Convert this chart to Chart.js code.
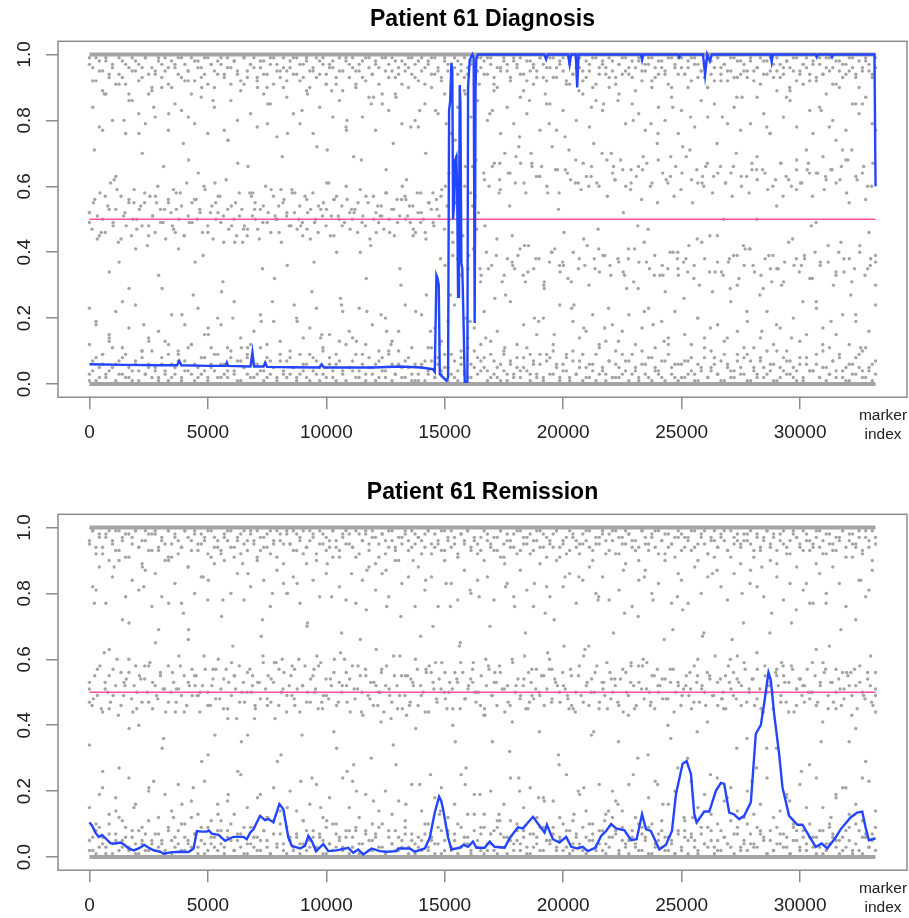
<!DOCTYPE html>
<html>
<head>
<meta charset="utf-8">
<script src="https://cdn.jsdelivr.net/npm/chart.js@4.4.1/dist/chart.umd.min.js"></script>
<style>
    html, body { margin: 0; padding: 0; background: #fff; overflow: hidden; }
    #wrapper { position: relative; width: 909px; height: 918px; }
    canvas { position: absolute; left: 0; }
    #diagnosisChart { top: 0; }
    #remissionChart { top: 473px; }
</style>
</head>
<body>
<div id="wrapper">
    <canvas id="diagnosisChart" width="909" height="445"></canvas>
    <canvas id="remissionChart" width="909" height="445"></canvas>
</div>
<script>
// Data
const lastMarker = 33186;
const xTicks = [0, 5000, 10000, 15000, 20000, 25000, 30000];
const yTicks = [0, 0.2, 0.4, 0.6, 0.8, 1.0];
const threshold = 0.5;

// Smoothed line (blue), diagnosis sample
const diagLineX = [0, 1500, 3000, 3700, 3790, 3880, 5000, 5750, 5800, 5850, 6800, 6880, 6950, 7350, 7420, 7500,
    8500, 9700, 9800, 9900, 11000, 12000, 13100, 14000, 14500, 14578, 14648, 14700, 14746, 14789, 15070, 15140,
    15182, 15230, 15280, 15320, 15350, 15400, 15440, 15490, 15520, 15562, 15600, 15632, 15660, 15702, 15740,
    15790, 15843, 15955, 15983, 16053, 16166, 16220, 16263, 16300, 16333, 16404, 17500, 19200, 19280, 19350,
    20200, 20270, 20330, 20530, 20590, 20650, 21500, 23280, 23330, 23380, 24850, 24900, 24950, 25900, 25990,
    26080, 26190, 26280, 28750, 28800, 28850, 30650, 30700, 30750, 31300, 31350, 31400, 33140, 33186];
const diagLineY = [0.06, 0.058, 0.057, 0.057, 0.07, 0.057, 0.055, 0.055, 0.065, 0.055, 0.053, 0.096, 0.053, 0.053, 0.065, 0.052,
    0.051, 0.05, 0.06, 0.05, 0.05, 0.05, 0.053, 0.05, 0.045, 0.037, 0.33, 0.32, 0.30, 0.03, 0.01, 0.02,
    0.83, 0.86, 0.975, 0.95, 0.50, 0.55, 0.68, 0.69, 0.60, 0.265, 0.40, 0.907, 0.85, 0.367, 0.35,
    0.20, 0.007, 0.007, 0.90, 0.983, 1.0, 0.99, 0.185, 0.90, 0.99, 1.0, 1.0, 1.0, 0.985, 1.0,
    1.0, 0.97, 1.0, 1.0, 0.90, 1.0, 1.0, 1.0, 0.983, 1.0, 1.0, 0.992, 1.0, 1.0, 0.938,
    1.0, 0.98, 1.0, 1.0, 0.978, 1.0, 1.0, 0.992, 1.0, 1.0, 0.992, 1.0, 1.0, 0.6];

// Smoothed line (blue), remission sample
const remLineX = [0, 113, 253, 393, 534, 674, 885, 1095, 1306, 1475, 1657, 1868, 2078, 2317, 2500, 2710, 2991, 3132,
    3413, 3834, 4185, 4395, 4537, 4747, 4957, 5030, 5167, 5448, 5729, 5940, 6080, 6502, 6642, 6783, 6923, 7204,
    7415, 7555, 7766, 8019, 8187, 8398, 8539, 8890, 9100, 9241, 9381, 9564, 9873, 10083, 10434, 10926, 11137,
    11347, 11558, 11910, 12261, 12542, 12963, 13033, 13525, 13735, 14157, 14368, 14578, 14761, 14850, 14930,
    15140, 15280, 15631, 15800, 15982, 16193, 16334, 16685, 16896, 17100, 17528, 17739, 18090, 18300, 18722,
    19002, 19213, 19312, 19565, 19845, 20126, 20337, 20600, 20828, 21039, 21350, 21601, 21812, 22023, 22233,
    22584, 22865, 23100, 23328, 23497, 23700, 24058, 24339, 24591, 24760, 25041, 25210, 25393, 25534, 25632,
    25955, 26166, 26446, 26657, 26797, 27008, 27200, 27429, 27640, 27921, 28132, 28342, 28483, 28665, 28763,
    28904, 29115, 29255, 29536, 29887, 30100, 30379, 30660, 30913, 31148, 31500, 31711, 32132, 32413, 32624,
    32765, 32905, 33186];
const remLineY = [0.105, 0.095, 0.074, 0.061, 0.067, 0.057, 0.042, 0.041, 0.044, 0.037, 0.026, 0.020, 0.026, 0.037, 0.028, 0.020, 0.016, 0.010,
    0.014, 0.016, 0.015, 0.026, 0.079, 0.077, 0.077, 0.081, 0.071, 0.067, 0.049, 0.057, 0.061, 0.061, 0.054, 0.074, 0.084, 0.125,
    0.112, 0.115, 0.105, 0.161, 0.145, 0.059, 0.034, 0.026, 0.034, 0.064, 0.049, 0.018, 0.039, 0.018, 0.020, 0.028, 0.013,
    0.023, 0.008, 0.026, 0.018, 0.016, 0.018, 0.026, 0.026, 0.016, 0.026, 0.059, 0.135, 0.183, 0.170, 0.145,
    0.059, 0.023, 0.028, 0.037, 0.031, 0.047, 0.028, 0.028, 0.047, 0.031, 0.028, 0.057, 0.090, 0.087, 0.122,
    0.095, 0.074, 0.098, 0.054, 0.044, 0.061, 0.031, 0.026, 0.031, 0.018, 0.028, 0.064, 0.079, 0.100, 0.087,
    0.081, 0.051, 0.054, 0.130, 0.084, 0.079, 0.023, 0.037, 0.079, 0.191, 0.283, 0.291, 0.252, 0.130, 0.105,
    0.138, 0.138, 0.201, 0.225, 0.222, 0.135, 0.130, 0.115, 0.125, 0.166, 0.374, 0.400, 0.466, 0.560, 0.537,
    0.435, 0.313, 0.212, 0.125, 0.098, 0.098, 0.064, 0.031, 0.041, 0.026, 0.059, 0.084, 0.120, 0.135, 0.138,
    0.090, 0.051, 0.057];

const diagLowPct = [
    3,7,1,5,9,2,4,11,6,3,8,2,5,1,7,4,10,3,6,2,
    5,2,8,4,1,6,3,9,2,7,4,12,1,5,3,8,2,6,4,9,
    2,6,4,10,3,7,1,5,8,2,6,3,11,4,2,7,5,1,9,3,
    7,3,5,2,9,4,6,1,8,3,5,10,2,6,4,1,7,3,12,5,
    4,9,2,6,3,8,5,1,7,4,2,9,6,3,10,5,2,8,1,6,
    1,5,7,3,11,2,6,4,9,5,3,7,1,8,4,2,6,10,3,7,
    8,4,2,7,5,1,9,3,6,2,8,4,5,11,3,7,2,6,1,9,
    3,10,6,2,4,8,1,7,3,5,9,2,6,4,1,12,5,3,7,2,
    6,2,9,4,7,3,5,1,10,6,2,8,4,3,7,1,9,5,2,6,
    2,7,3,8,1,6,4,11,2,5,8,3,7,1,6,4,2,9,5,3,
    9,1,5,3,7,2,10,4,6,1,5,8,3,7,2,4,6,1,8,4,
    4,6,2,10,5,3,7,2,9,4,1,6,3,8,5,2,11,4,6,3];
const diagLow2Pct = [
    1,4,8,2,6,3,13,5,1,7,3,9,2,4,6,1,8,3,5,10,
    4,1,6,3,9,2,5,7,1,4,11,3,6,2,8,4,1,5,9,2,
    6,3,2,8,4,1,7,5,3,12,2,6,4,1,8,3,5,2,7,4,
    2,8,5,1,3,6,2,9,4,7,1,3,5,8,2,6,13,4,1,5,
    7,2,4,9,1,5,3,6,2,8,4,10,1,3,6,2,7,5,3,1,
    3,6,1,4,7,2,8,3,5,1,9,2,4,6,3,11,2,5,8,4,
    5,1,9,3,2,6,4,1,7,3,5,2,8,4,1,6,3,9,2,7,
    8,3,5,1,6,4,2,10,3,7,1,5,2,6,9,3,4,1,7,2,
    2,5,3,7,1,9,4,2,6,3,8,1,5,4,2,7,12,3,6,1,
    6,2,7,4,3,1,5,8,2,4,6,3,1,9,5,2,4,7,3,8,
    1,7,4,2,8,5,3,6,1,10,2,4,7,3,5,1,8,2,6,4,
    4,9,2,5,1,3,7,4,8,2,5,1,6,3,9,4,2,5,1,7];
const diagHighPct = [
    97,92,99,95,89,98,94,96,91,99,93,97,88,95,98,92,96,99,94,90,
    95,98,93,99,96,90,97,94,99,92,95,88,98,96,93,99,91,97,95,94,
    99,94,96,91,98,95,89,99,93,97,96,92,98,94,90,97,99,95,93,96,
    92,96,99,94,97,93,98,90,95,99,94,97,91,96,98,93,95,89,99,97,
    96,90,95,98,92,99,94,97,96,88,99,93,95,98,94,91,97,96,99,93,
    98,95,91,97,99,94,96,92,98,95,90,99,94,97,93,96,98,91,95,99,
    94,99,97,93,90,96,98,95,92,99,97,94,89,98,95,96,93,99,97,92,
    99,93,96,98,95,91,97,94,99,96,92,98,95,90,99,94,97,96,93,98,
    91,97,94,99,96,93,89,98,95,97,99,92,96,94,98,95,91,99,96,94,
    96,94,98,92,99,97,95,93,90,98,96,99,94,97,92,95,99,93,98,95,
    93,99,95,96,91,98,94,99,97,95,93,96,98,89,95,99,94,97,96,92,
    98,92,97,94,99,95,96,91,98,93,97,95,99,94,90,96,98,95,93,99];
const diagHigh2Pct = [
    99,96,92,98,95,99,93,97,100,94,98,91,96,99,95,97,93,99,88,96,
    94,99,97,95,91,98,96,99,93,97,95,99,92,98,96,94,99,97,90,98,
    97,93,99,96,98,94,92,99,95,97,99,93,96,98,94,99,91,97,95,99,
    95,98,94,99,92,97,99,95,96,93,98,99,94,97,96,91,99,95,98,93,
    99,95,97,93,99,96,94,98,91,99,95,97,99,93,96,98,95,99,94,97,
    92,99,96,98,94,99,95,93,99,97,91,96,98,95,99,94,97,92,99,96,
    98,94,99,91,96,95,99,97,93,98,96,99,94,92,98,97,95,99,93,96,
    96,99,93,97,99,92,98,94,96,99,95,93,97,99,91,96,98,94,99,95,
    93,97,99,95,94,98,96,99,92,95,97,99,93,98,96,94,99,90,97,99,
    99,94,96,99,97,93,95,98,99,94,92,99,96,97,95,99,93,98,94,97,
    95,98,92,96,99,94,98,95,93,99,97,94,98,96,99,92,95,97,99,94,
    97,93,99,94,96,99,91,98,95,97,94,99,96,93,98,95,99,97,94,96];
const diagShoulderPct = [
    12,84,19,78,9,88,15,80,22,91,11,76,17,86,24,82,10,79,14,89,
    81,16,90,13,77,21,85,10,83,18,92,12,79,23,87,15,76,11,84,20,
    18,77,11,86,25,80,14,91,9,82,16,78,21,88,12,85,19,75,13,90,
    87,10,82,20,79,14,89,17,76,23,84,11,91,15,81,9,86,22,78,16,
    14,91,23,81,12,87,18,77,10,85,20,83,13,88,16,79,24,90,11,80,
    78,21,85,11,90,17,82,13,88,19,76,24,84,10,89,14,81,17,86,12,
    22,80,13,89,16,76,10,84,25,79,12,87,18,82,9,91,15,77,20,85,
    85,12,77,24,83,9,91,19,80,14,88,16,78,21,86,11,83,13,90,18,
    10,88,16,79,21,85,12,82,17,77,23,90,11,84,19,80,14,87,22,76,
    83,15,90,12,78,20,86,14,81,10,85,18,92,13,79,25,84,16,77,11,
    19,79,11,87,14,82,22,76,12,89,17,81,10,86,20,78,13,91,15,83,
    76,23,84,17,88,11,80,15,90,21,77,12,85,19,82,10,87,16,79,24];
const diagMidPct = [
    52,47,56,44,58,50,46,54,61,49,53,43,57,51,48,55,45,59,50,53,
    48,55,42,57,51,46,60,53,49,44,56,52,47,58,50,54,45,61,49,55,
    56,50,53,46,59,48,52,44,55,57,49,51,62,47,54,50,45,58,53,48,
    45,58,51,55,47,53,49,60,52,46,57,50,54,43,56,51,48,59,52,47,
    54,49,57,52,44,58,50,46,53,55,48,61,51,45,57,50,54,49,56,52,
    50,53,46,59,51,48,55,42,57,52,49,54,47,58,50,53,45,56,51,60,
    57,51,49,54,46,52,58,50,44,55,53,48,56,51,59,47,54,50,46,55,
    38,62,45,66,35,58,41,68,52,33,64,40,60,36,67,44,62,31,70,38,
    64,36,61,39,67,33,58,42,70,35,63,38,66,29,60,37,72,41,65,34,
    37,65,32,62,40,68,35,59,44,63,30,66,38,61,34,70,39,57,36,64,
    62,38,68,34,60,41,65,31,63,37,56,43,67,35,61,39,73,33,64,28,
    35,63,40,66,33,59,37,69,42,62,36,65,30,61,38,67,45,58,34,64,
    66,33,61,37,64,39,70,32,60,36,63,41,67,34,62,27,65,38,59,35,
    39,62,35,67,31,63,43,60,36,68,34,61,38,65,32,57,40,64,37,69,
    63,37,65,30,61,40,66,34,58,38,71,35,62,42,64,33,60,36,67,39];
const diagMid2Pct = [
    49,55,51,46,57,53,48,59,44,52,56,50,47,54,58,45,51,55,49,53,
    55,48,53,58,45,51,49,56,52,60,46,54,50,57,43,53,48,55,51,47,
    47,57,50,44,54,49,59,51,46,55,52,48,58,50,45,56,53,49,54,51,
    53,45,56,51,48,60,47,52,55,49,57,44,50,54,51,58,46,53,49,56,
    50,54,47,58,52,46,55,49,53,57,36,64,43,69,33,60,39,66,47,31,
    62,35,66,39,59,33,64,37,69,41,61,34,67,38,63,30,58,40,65,36,
    36,64,31,61,38,67,42,63,35,60,39,68,33,62,37,65,29,59,41,66,
    65,37,60,33,68,36,62,40,57,35,64,38,71,32,61,43,66,34,63,37,
    34,61,38,66,30,63,41,58,36,69,33,64,39,60,35,67,37,62,44,65,
    61,39,67,32,64,36,59,42,65,34,62,38,68,31,63,40,66,35,60,37];
const diagSparsePct = [
    23,71,45,88,14,62,37,80,29,55,76,18,48,84,33,66,12,59,41,73,
    81,27,64,39,17,86,52,31,74,20,67,43,11,58,90,35,79,25,50,69,
    36,58,19,83,47,28,72,15,61,89,40,24,77,53,13,68,32,85,46,21,
    65,12,87,30,56,78,22,49,70,16,83,38,60,27,74,44,88,19,57,35,
    48,82,26,67,11,54,35,75,42,86,20,63,31,79,15,58,46,71,24,89,
    17,60,73,41,85,23,66,13,52,38,80,29,69,47,18,76,33,61,84,40,
    72,34,55,20,63,90,28,45,81,14,57,39,87,22,65,50,16,78,31,54,
    30,87,14,59,36,71,48,25,83,62,19,74,43,68,27,85,11,56,38,77];
const diagSparse2Pct = [
    52,18,77,34,63,25,86,41,70,13,57,29,82,46,21,68,37,90,15,61,
    28,74,43,11,66,53,19,85,32,59,76,24,48,88,37,14,71,56,26,80,
    69,40,22,87,51,16,73,35,62,45,83,27,58,12,79,39,64,20,54,91,
    14,83,58,27,45,72,31,66,19,88,40,53,75,23,61,36,84,47,17,70,
    86,33,61,48,22,79,55,13,69,38,26,81,44,60,17,73,50,29,87,42,
    41,65,29,76,18,57,90,38,25,64,49,12,78,33,71,55,21,85,46,30];

const remLowPct = [
    5,2,8,3,6,1,10,4,7,2,5,9,3,6,1,8,4,2,11,5,
    2,7,4,1,9,5,3,8,2,6,4,12,7,3,5,1,9,4,6,2,
    8,3,6,10,2,5,7,1,4,9,3,6,2,8,5,1,7,3,10,4,
    1,6,3,7,4,11,2,5,8,3,6,1,9,4,2,7,5,3,6,8,
    6,9,1,4,8,2,5,7,3,10,1,6,4,8,2,5,9,3,7,1,
    3,5,7,2,6,4,9,1,5,8,2,7,10,3,6,4,1,8,5,2,
    9,2,4,8,1,7,3,6,11,2,5,4,8,1,7,3,6,9,2,5,
    4,7,2,5,10,3,8,2,6,4,9,1,5,7,3,8,2,4,6,12,
    7,1,9,3,5,8,4,2,7,6,1,10,3,5,8,2,6,4,1,7,
    2,8,5,6,3,1,7,4,9,5,3,2,8,6,4,11,1,7,3,5,
    10,4,3,9,7,5,1,8,2,4,7,3,6,1,9,5,2,8,4,6,
    3,6,8,1,4,9,6,3,5,2,8,5,1,10,2,6,7,3,5,9];
const remLow2Pct = [
    2,6,1,9,4,3,7,1,5,12,3,6,2,8,4,1,5,7,2,4,
    7,3,5,2,8,1,6,4,10,2,5,3,7,1,9,4,2,6,3,8,
    4,1,8,5,2,7,3,9,1,4,6,2,5,8,3,1,11,4,7,2,
    9,5,2,6,1,4,8,3,6,2,7,5,1,4,10,3,6,2,8,1,
    3,8,4,1,7,5,2,6,9,3,1,8,4,2,6,3,7,1,5,4,
    6,2,10,3,5,1,4,8,2,7,3,5,1,9,4,6,2,13,3,7,
    1,4,7,2,9,3,6,1,5,4,8,2,6,3,1,7,4,2,9,5,
    5,9,3,6,2,8,1,4,7,3,2,6,10,5,2,4,8,1,3,6,
    8,2,5,4,1,6,3,10,2,5,9,1,4,7,3,6,2,5,1,8,
    3,6,1,7,5,2,9,4,3,8,1,5,2,6,4,3,7,9,2,4,
    2,7,4,3,8,6,1,5,2,9,4,7,3,1,5,8,3,6,2,10,
    6,1,3,8,2,4,7,5,1,6,3,9,2,4,8,1,6,3,7,2];
const remHighPct = [
    95,99,92,97,94,98,90,96,99,93,97,91,98,95,99,94,89,96,98,93,
    98,93,96,90,99,95,97,92,94,99,88,96,98,93,95,97,99,91,94,96,
    92,97,99,94,91,96,98,95,93,99,96,90,97,94,98,92,95,99,96,89,
    99,95,93,98,96,92,94,99,97,90,95,98,93,96,99,94,91,97,95,98,
    94,91,98,96,99,93,97,89,95,98,92,99,96,94,90,97,98,93,99,95,
    97,96,94,99,92,98,95,93,99,96,94,97,91,98,95,99,93,96,92,97,
    90,98,95,93,97,99,91,96,94,98,99,93,95,97,92,96,99,94,98,91,
    96,94,99,91,95,97,93,98,96,92,95,99,94,90,97,95,98,96,93,99,
    99,92,97,95,98,94,96,90,99,95,93,97,99,92,96,98,94,95,91,97,
    93,97,96,99,94,90,98,95,92,97,96,94,98,99,93,91,97,96,95,98,
    98,95,91,97,93,96,99,94,97,89,98,95,92,96,99,97,94,93,98,96,
    95,99,94,92,98,95,93,97,96,99,91,98,95,94,97,92,99,96,90,95];
const remHigh2Pct = [
    96,99,94,98,92,97,99,95,93,99,96,98,91,97,99,94,96,99,93,98,
    99,94,97,95,99,91,98,96,94,99,97,93,99,95,98,96,92,99,97,94,
    93,98,96,99,94,97,92,99,96,98,95,99,93,97,94,99,96,91,98,95,
    98,95,99,93,97,99,94,96,98,92,99,95,97,94,99,96,93,98,99,95,
    94,99,92,96,98,95,99,97,91,98,96,94,99,93,97,95,99,96,94,98,
    97,92,98,99,95,94,96,99,93,97,99,95,92,98,96,99,94,97,95,93,
    99,96,94,97,93,99,95,98,96,94,92,99,97,95,98,93,96,99,94,97,
    95,98,99,94,96,92,99,97,94,95,98,96,99,93,95,97,99,92,98,96,
    92,97,95,99,98,96,93,94,99,97,95,98,94,99,96,92,98,95,97,99,
    98,94,97,93,99,95,97,99,92,96,99,94,97,96,93,99,95,98,94,96,
    96,99,93,98,94,97,99,95,98,93,96,99,94,92,98,97,95,99,96,93,
    94,97,99,96,92,98,95,93,97,99,94,96,98,95,99,93,97,94,99,97];
const remShoulderPct = [
    15,82,10,88,21,77,13,85,18,90,11,79,24,84,16,81,9,87,20,76,
    86,12,79,19,91,14,83,22,77,10,88,17,80,13,85,23,78,11,89,16,
    11,90,17,80,13,86,25,78,15,82,9,91,19,84,12,76,21,87,14,83,
    80,20,85,14,77,11,89,16,84,22,79,12,86,18,91,10,82,24,78,15,
    23,77,12,84,19,88,10,81,14,86,20,79,13,90,17,83,11,85,22,76,
    88,14,81,10,85,18,76,21,90,12,83,16,78,25,87,13,80,19,84,9,
    13,85,20,78,11,91,16,83,24,79,10,87,15,81,21,76,12,89,18,82,
    79,17,90,12,82,25,86,11,77,19,84,14,88,10,80,22,85,13,78,20,
    17,81,14,89,22,76,12,84,9,87,18,80,23,83,11,90,16,77,20,86,
    84,11,77,23,88,15,80,19,85,13,91,10,82,17,78,21,86,14,89,12,
    20,87,13,82,16,79,24,90,12,85,14,78,19,83,10,88,22,81,15,77,
    77,24,86,15,80,10,88,18,83,21,76,13,91,16,84,11,79,23,87,14];
const remMidPct = [
    51,46,55,49,58,44,53,50,47,57,52,43,56,49,54,60,48,52,45,55,
    47,54,50,59,45,52,48,56,51,44,58,50,53,47,61,49,55,46,52,57,
    55,49,44,52,57,50,46,54,48,60,51,45,57,53,49,55,42,58,50,47,
    50,57,52,46,53,48,61,51,55,47,53,59,46,50,56,44,52,49,57,51,
    44,52,58,50,47,55,51,45,59,49,54,48,52,56,46,53,50,60,47,54,
    58,48,51,55,43,57,49,53,46,52,50,56,44,58,51,47,55,52,49,45,
    49,55,47,53,60,46,52,50,57,44,56,51,48,54,59,50,45,53,51,56,
    53,45,56,48,51,54,59,47,50,55,43,52,57,49,53,46,58,51,44,52,
    46,59,50,54,49,52,45,56,53,48,57,50,55,46,51,60,48,54,52,47,
    56,51,48,57,45,50,55,49,61,52,46,54,50,58,47,53,49,45,56,50,
    52,47,54,44,56,49,58,52,46,53,51,48,59,50,55,45,57,52,48,54,
    48,53,57,50,52,46,51,55,49,45,58,53,47,52,50,56,54,49,61,46,
    54,50,45,58,51,56,48,53,52,59,47,50,54,46,57,51,44,55,50,53,
    45,56,52,49,55,47,53,58,44,51,54,49,52,57,48,50,55,47,53,59,
    57,49,53,47,50,54,46,51,56,52,49,57,45,53,50,48,56,52,46,51];
const remMid2Pct = [
    53,48,57,45,51,55,49,60,46,52,56,44,50,54,58,47,53,49,55,51,
    47,56,51,58,44,53,49,55,50,61,46,52,57,48,54,45,59,51,47,53,
    56,50,45,53,59,48,54,42,57,51,49,55,46,60,52,47,54,50,58,45,
    49,54,60,47,52,56,44,51,58,50,55,48,53,46,57,52,49,61,45,55,
    55,46,52,57,49,44,58,53,47,51,56,50,45,54,59,48,52,57,50,46,
    45,58,49,53,56,51,47,60,52,48,54,45,57,51,49,55,62,47,53,50,
    52,49,55,44,58,47,53,50,56,45,51,59,48,54,46,57,50,53,45,58,
    58,51,46,55,50,54,48,57,44,53,49,52,56,47,60,51,46,55,49,53,
    48,55,53,49,61,46,57,51,54,48,45,58,52,50,55,47,53,44,57,51,
    54,47,50,59,46,52,56,45,53,57,51,48,55,43,52,58,49,54,47,56];
const remSparsePct = [
    34,77,19,62,45,88,27,53,71,15,40,82,58,23,69,36,90,12,51,74,
    66,21,49,85,31,57,13,78,42,64,26,89,37,55,18,72,46,80,29,60,
    15,58,83,37,70,24,61,47,11,79,33,68,52,86,20,44,75,30,63,41,
    87,42,28,73,16,54,39,67,84,25,59,14,48,76,35,65,22,81,50,19,
    43,70,56,11,89,32,76,20,61,47,83,38,17,57,72,28,64,45,13,85,
    21,64,38,79,53,14,68,35,87,43,25,73,60,31,78,52,16,40,69,27,
    75,30,12,55,67,41,86,24,48,18,66,54,80,36,23,62,88,33,74,57,
    59,18,71,46,26,83,50,63,35,77,12,45,69,21,56,39,84,29,61,44];
const remSparse2Pct = [
    47,81,26,63,14,72,39,58,88,21,65,33,77,44,16,69,52,29,84,37,
    73,19,55,35,86,42,67,12,59,31,80,48,23,71,57,15,89,38,62,26,
    28,66,87,17,50,76,34,61,43,90,22,56,70,13,83,40,64,27,53,79,
    60,35,13,82,41,24,68,49,18,74,57,31,85,46,20,63,37,78,11,54,
    16,74,59,30,85,47,22,66,36,79,12,51,38,68,25,87,45,60,33,71,
    83,27,44,68,33,58,17,75,52,28,89,41,64,19,56,35,72,24,81,49];

// Styles
const fontFamily = "'Liberation Sans', Arial, Helvetica, sans-serif";
const pointColor = '#a4a4a4';
const frameColor = '#8c8c8c';
const lineBlue = '#2445ff';
const linePink = '#ff4fa3';

function spreadOverMarkers(pcts) {
    const step = lastMarker / (pcts.length - 1);
    return pcts.map((p, i) => ({ x: Math.round(i * step), y: p / 100 }));
}

function zipLine(xs, ys) {
    return xs.map((x, i) => ({ x: x, y: ys[i] }));
}

// Box around the plot region plus the "marker index" note
const framePlugin = {
    id: 'frame',
    afterDraw(chart) {
        const { ctx, chartArea } = chart;
        ctx.save();
        ctx.strokeStyle = frameColor;
        ctx.lineWidth = 1.5;
        ctx.strokeRect(chartArea.left, chartArea.top, chartArea.right - chartArea.left, chartArea.bottom - chartArea.top);
        ctx.fillStyle = '#222';
        ctx.font = `15.5px ${fontFamily}`;
        ctx.textAlign = 'center';
        ctx.textBaseline = 'middle';
        ctx.fillText('marker', chartArea.right - 24, chartArea.bottom + 19);
        ctx.fillText('index', chartArea.right - 24, chartArea.bottom + 38);
        ctx.restore();
    }
};

function buildPanel(canvasId, title, lineX, lineY, clouds) {
    const pointStyle = {
        type: 'scatter',
        backgroundColor: pointColor,
        borderWidth: 0,
        pointRadius: 1.7,
        pointHoverRadius: 1.7,
        order: 3
    };
    const bandStyle = {
        type: 'scatter',
        showLine: true,
        borderColor: pointColor,
        borderWidth: 4,
        pointRadius: 0,
        order: 2
    };

    const datasets = [
        {
            label: 'smoothed',
            type: 'scatter',
            showLine: true,
            data: zipLine(lineX, lineY),
            borderColor: lineBlue,
            borderWidth: 2.4,
            pointRadius: 0,
            tension: 0,
            order: 0
        },
        {
            label: 'threshold',
            type: 'scatter',
            showLine: true,
            data: [{ x: 0, y: threshold }, { x: lastMarker, y: threshold }],
            borderColor: linePink,
            borderWidth: 1.6,
            pointRadius: 0,
            order: 1
        },
        { ...bandStyle, label: 'band0', data: [{ x: 0, y: 0 }, { x: lastMarker, y: 0 }] },
        { ...bandStyle, label: 'band1', data: [{ x: 0, y: 1 }, { x: lastMarker, y: 1 }] }
    ];
    clouds.forEach((pcts, i) => {
        datasets.push({ ...pointStyle, label: `baf${i}`, data: spreadOverMarkers(pcts) });
    });

    const tickFont = { family: fontFamily, size: 19 };

    const config = {
        type: 'scatter',
        data: { datasets: datasets },
        options: {
            responsive: false,
            animation: false,
            devicePixelRatio: 1,
            layout: { padding: { left: 0, right: 2, top: 0, bottom: 0 } },
            scales: {
                x: {
                    type: 'linear',
                    min: -0.04 * lastMarker,
                    max: 1.04 * lastMarker,
                    afterBuildTicks: (scale) => { scale.ticks = xTicks.map(v => ({ value: v })); },
                    afterFit: (scale) => { scale.height = 47.8; },
                    ticks: {
                        color: '#222',
                        font: tickFont,
                        padding: 12,
                        maxRotation: 0,
                        autoSkip: false,
                        callback: (value) => `${value}`
                    },
                    grid: { drawOnChartArea: false, drawTicks: true, tickLength: 12, color: frameColor, lineWidth: 1.5 },
                    border: { display: false }
                },
                y: {
                    type: 'linear',
                    min: -0.04,
                    max: 1.04,
                    afterBuildTicks: (scale) => { scale.ticks = yTicks.map(v => ({ value: v })); },
                    afterFit: (scale) => { scale.width = 58; },
                    ticks: {
                        color: '#222',
                        font: tickFont,
                        padding: 8,
                        minRotation: 90,
                        maxRotation: 90,
                        crossAlign: 'center',
                        autoSkip: false,
                        callback: (value) => value.toFixed(1)
                    },
                    grid: { drawOnChartArea: false, drawTicks: true, tickLength: 12, color: frameColor, lineWidth: 1.5 },
                    border: { display: false }
                }
            },
            plugins: {
                legend: { display: false },
                tooltip: { enabled: false },
                title: {
                    display: true,
                    text: title,
                    color: '#000',
                    fullSize: false,
                    font: { family: fontFamily, size: 23, weight: 'bold' },
                    padding: { top: 5.5, bottom: 8.2 }
                }
            }
        },
        plugins: [framePlugin]
    };

    const ctx = document.getElementById(canvasId).getContext('2d');
    return new Chart(ctx, config);
}

const diagnosisChart = buildPanel('diagnosisChart', 'Patient 61 Diagnosis', diagLineX, diagLineY,
    [diagLowPct, diagLow2Pct, diagHighPct, diagHigh2Pct, diagShoulderPct, diagMidPct, diagMid2Pct, diagSparsePct, diagSparse2Pct]);
const remissionChart = buildPanel('remissionChart', 'Patient 61 Remission', remLineX, remLineY,
    [remLowPct, remLow2Pct, remHighPct, remHigh2Pct, remShoulderPct, remMidPct, remMid2Pct, remSparsePct, remSparse2Pct]);
</script>
</body>
</html>
